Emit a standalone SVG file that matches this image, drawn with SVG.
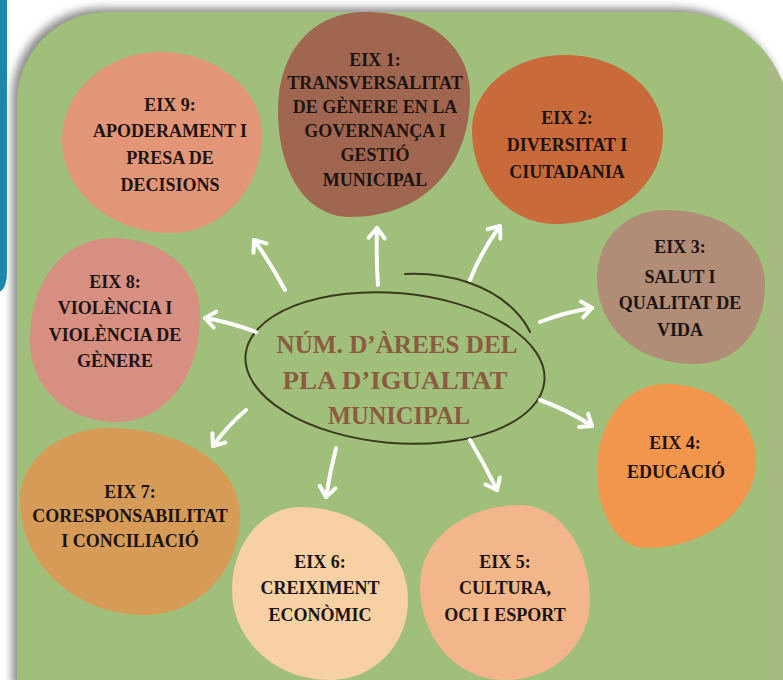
<svg xmlns="http://www.w3.org/2000/svg" width="783" height="680" viewBox="0 0 783 680">
<defs>
<style>
.t{font-family:"Liberation Serif","Times New Roman",serif;font-weight:bold;font-size:18px;fill:#1c1410;text-anchor:middle}
.c{font-family:"Liberation Serif","Times New Roman",serif;font-weight:bold;font-size:26px;fill:#8b5b3f;text-anchor:middle}
.arrow{fill:none;stroke:#ffffff;stroke-width:4;stroke-linecap:round;marker-end:url(#head)}
</style>
<marker id="head" viewBox="-14 -12 18 24" markerWidth="18" markerHeight="24" refX="0" refY="0" orient="auto" markerUnits="userSpaceOnUse">
<path d="M-10,-8 L0,0 L-10,8" fill="none" stroke="#ffffff" stroke-width="4" stroke-linecap="round" stroke-linejoin="round"/>
</marker>
<filter id="blur" x="-10%" y="-10%" width="120%" height="120%">
<feGaussianBlur stdDeviation="4"/>
</filter>
<clipPath id="panelClip">
<path d="M17,690 V102 A90,90 0 0 1 107,12 H680 A110,110 0 0 1 790,122 V690 Z"/>
</clipPath>
</defs>
<rect width="783" height="680" fill="#ffffff"/>
<g id="background">
<path d="M0,0 H7 V272 Q7,287 0,292 Z" fill="#1b87aa"/>
<path d="M17,690 V102 A90,90 0 0 1 107,12 H680 A110,110 0 0 1 790,122 V690 Z" fill="#8c8c8c" filter="url(#blur)" transform="translate(-5,-4)"/>
<path d="M17,690 V102 A90,90 0 0 1 107,12 H680 A110,110 0 0 1 790,122 V690 Z" fill="#9fbf7b"/>
<rect x="767" y="0" width="16" height="680" fill="#a8b985" clip-path="url(#panelClip)"/>
</g>
<g id="eix9">
<path d="M160,52 C216,52 262,89 262,135 C262,189 221,233 170,233 C111,233 62,191 62,140 C62,92 106,52 160,52 Z" fill="#e39677"/>
<text class="t" x="170" y="111">EIX 9:</text>
<text class="t" x="170" y="137">APODERAMENT I</text>
<text class="t" x="170" y="164">PRESA DE</text>
<text class="t" x="170" y="191">DECISIONS</text>
</g>
<g id="eix1">
<path d="M365,12 C428,12 470,45 470,95 C470,168 422,217 350,217 C307,217 278,174 278,110 C278,51 313,12 365,12 Z" fill="#a06650"/>
<text class="t" x="375" y="66">EIX 1:</text>
<text class="t" x="375" y="89">TRANSVERSALITAT</text>
<text class="t" x="375" y="113">DE GÈNERE EN LA</text>
<text class="t" x="375" y="137">GOVERNANÇA I</text>
<text class="t" x="375" y="161">GESTIÓ</text>
<text class="t" x="375" y="186">MUNICIPAL</text>
</g>
<g id="eix2">
<path d="M565,55 C620,55 663,90 663,135 C663,185 615,224 555,224 C509,224 472,183 472,130 C472,88 513,55 565,55 Z" fill="#c96a3a"/>
<text class="t" x="567" y="124">EIX 2:</text>
<text class="t" x="567" y="151">DIVERSITAT I</text>
<text class="t" x="567" y="178">CIUTADANIA</text>
</g>
<g id="eix3">
<path d="M665,210 C723,210 765,241 765,285 C765,331 736,364 695,364 C638,364 597,328 597,278 C597,239 626,210 665,210 Z" fill="#b18c77"/>
<text class="t" x="680" y="253">EIX 3:</text>
<text class="t" x="680" y="283">SALUT I</text>
<text class="t" x="680" y="309">QUALITAT DE</text>
<text class="t" x="680" y="336">VIDA</text>
</g>
<g id="eix4">
<path d="M665,384 C716,384 756,417 756,460 C756,509 707,548 645,548 C618,548 597,514 597,470 C597,422 627,384 665,384 Z" fill="#f2964d"/>
<text class="t" x="675" y="449">EIX 4:</text>
<text class="t" x="676" y="478">EDUCACIÓ</text>
</g>
<g id="eix5">
<path d="M520,505 C559,505 590,547 590,600 C590,645 553,680 505,680 C456,680 420,638 420,585 C420,540 464,505 520,505 Z" fill="#f3b68a"/>
<text class="t" x="505" y="568">EIX 5:</text>
<text class="t" x="505" y="594">CULTURA,</text>
<text class="t" x="505" y="621">OCI I ESPORT</text>
</g>
<g id="eix6">
<path d="M300,507 C360,507 408,548 408,600 C408,645 374,680 330,680 C275,680 232,640 232,590 C232,544 262,507 300,507 Z" fill="#f7d1a3"/>
<text class="t" x="320" y="568">EIX 6:</text>
<text class="t" x="320" y="594">CREIXIMENT</text>
<text class="t" x="320" y="621">ECONÒMIC</text>
</g>
<g id="eix7">
<path d="M110,428 C183,428 240,466 240,515 C240,571 198,615 145,615 C75,615 20,564 20,500 C20,460 60,428 110,428 Z" fill="#d69c57"/>
<text class="t" x="130" y="498">EIX 7:</text>
<text class="t" x="130" y="522">CORESPONSABILITAT</text>
<text class="t" x="130" y="547">I CONCILIACIÓ</text>
</g>
<g id="eix8">
<path d="M112,238 C163,238 200,270 200,315 C200,377 165,422 117,422 C67,422 30,388 30,340 C30,281 64,238 112,238 Z" fill="#d68f81"/>
<text class="t" x="115" y="288">EIX 8:</text>
<text class="t" x="115" y="314">VIOLÈNCIA I</text>
<text class="t" x="115" y="341">VIOLÈNCIA DE</text>
<text class="t" x="115" y="367">GÈNERE</text>
</g>
<g id="center">
<ellipse cx="395" cy="368" rx="150" ry="75" transform="rotate(5 395 368)" fill="none" stroke="#3b3a1e" stroke-width="2"/>
<path d="M405,274 C450,272 492,286 516,312 C522,318 526,324 530,332" fill="none" stroke="#3b3a1e" stroke-width="2" stroke-linecap="round"/>
<text class="c" x="397" y="353" textLength="241" lengthAdjust="spacingAndGlyphs">NÚM. D’ÀREES DEL</text>
<text class="c" x="395" y="389" textLength="225" lengthAdjust="spacingAndGlyphs">PLA D’IGUALTAT</text>
<text class="c" x="399" y="424" textLength="142" lengthAdjust="spacingAndGlyphs">MUNICIPAL</text>
</g>
<g id="connectors">
<path class="arrow" d="M285,290 Q270,262 254,240"/>
<path class="arrow" d="M378,285 Q376,255 377,228"/>
<path class="arrow" d="M470,280 Q482,250 500,226"/>
<path class="arrow" d="M540,322 Q565,312 592,308"/>
<path class="arrow" d="M540,400 Q568,410 592,426"/>
<path class="arrow" d="M470,440 Q485,465 497,490"/>
<path class="arrow" d="M336,448 Q330,472 326,497"/>
<path class="arrow" d="M246,410 Q228,425 213,446"/>
<path class="arrow" d="M256,332 Q230,322 205,318"/>
</g>
</svg>
